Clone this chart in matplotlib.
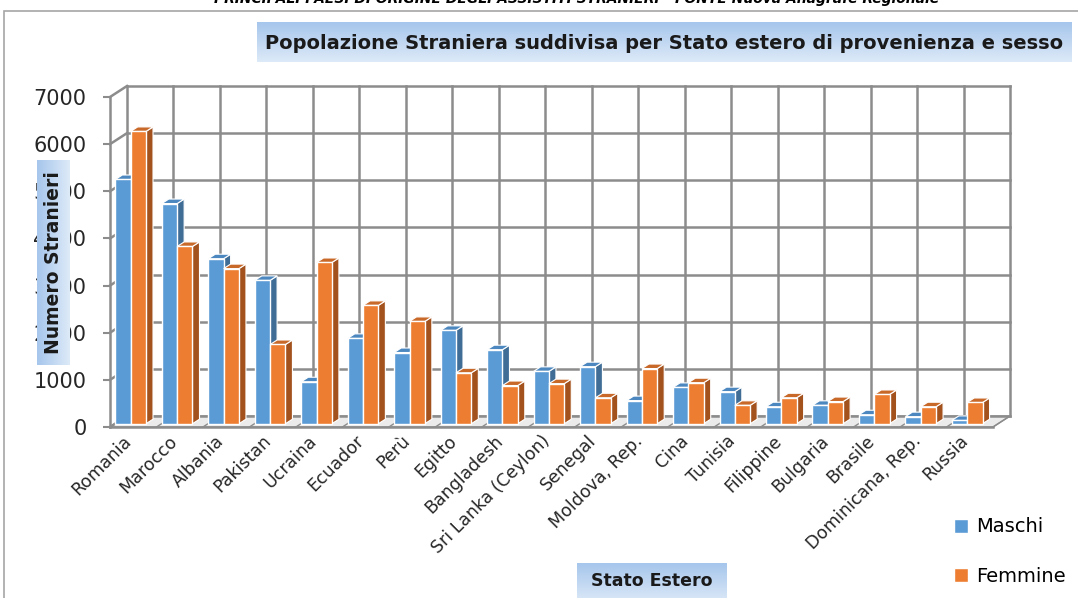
import matplotlib
matplotlib.use("Agg")
import matplotlib.pyplot as plt
import numpy as np
from matplotlib.patches import Polygon, Rectangle
from matplotlib.colors import LinearSegmentedColormap

# dati
paesi = ["Romania", "Marocco", "Albania", "Pakistan", "Ucraina", "Ecuador", "Perù",
         "Egitto", "Bangladesh", "Sri Lanka (Ceylon)", "Senegal", "Moldova, Rep.",
         "Cina", "Tunisia", "Filippine", "Bulgaria", "Brasile", "Dominicana, Rep.",
         "Russia"]
maschi = [5180, 4670, 3500, 3040, 890, 1810, 1510, 1980, 1570, 1110, 1210, 490,
          770, 680, 360, 390, 190, 150, 70]
femmine = [6200, 3760, 3290, 1680, 3420, 2510, 2170, 1080, 810, 850, 550, 1170,
           870, 390, 550, 470, 620, 360, 450]
serie = ["Maschi", "Femmine"]
yticks = [0, 1000, 2000, 3000, 4000, 5000, 6000, 7000]

W, H = 1078, 598
def fx(px):
    return px / W
def fy(py):
    return 1 - py / H

fig = plt.figure(figsize=(W / 100, H / 100), dpi=100)

# bordo area grafico
fig.patches.append(Rectangle((fx(4), -0.1), 1.2, fy(11) + 0.1, transform=fig.transFigure,
                             fill=False, edgecolor="#A6A6A6", lw=1.2))
fig.text(0.535, fy(3), "PRINCIPALI PAESI DI ORIGINE DEGLI ASSISTITI STRANIERI - FONTE Nuova Anagrafe Regionale",
         ha="center", va="baseline", fontsize=10, fontweight="bold", style="italic")

ax = fig.add_axes([fx(110), fy(427), 883 / W, 330 / H])
n = len(paesi)
ymax = yticks[-1]
ax.set_xlim(0, n)
ax.set_ylim(0, ymax)
ax.patch.set_visible(False)
for s in ax.spines.values():
    s.set_visible(False)

# profondita' 3D
wdx = 17 / (883 / n)
wdy = 11 / (330 / ymax)
grid_c = "#8C8C8C"
glw = 1.8

# pavimento
ax.add_patch(Polygon([(0, 0), (n, 0), (n + wdx, wdy), (wdx, wdy)], closed=True,
                     facecolor="#EBEBEB", edgecolor=grid_c, lw=1.0, zorder=1, clip_on=False))
for v in yticks:
    ax.plot([wdx, n + wdx], [v + wdy, v + wdy], color=grid_c, lw=glw, zorder=2, clip_on=False)
    ax.plot([0, wdx], [v, v + wdy], color=grid_c, lw=glw, zorder=2, clip_on=False)
for i in range(n + 1):
    ax.plot([i + wdx, i + wdx], [wdy, ymax + wdy], color=grid_c, lw=glw, zorder=2, clip_on=False)
    ax.plot([i, i + wdx], [0, wdy], color=grid_c, lw=1.0, zorder=2, clip_on=False)
ax.plot([0, 0], [0, ymax], color=grid_c, lw=glw, zorder=3, clip_on=False)
ax.plot([0, n], [0, 0], color=grid_c, lw=glw, zorder=3, clip_on=False)

# barre
bw = 0.33
bdx = 7 / (883 / n)
bdy = 4.5 / (330 / ymax)
sx = 0.11
sy = 70
x = np.arange(n) + 0.5 + sx
colori = [("#5B9BD5", "#3F6D96", "#4C88BF"), ("#ED7D31", "#A3521E", "#C8692A")]
conts = []
for k, vals in enumerate([maschi, femmine]):
    xs = x - bw / 2 + (k - 0.5) * bw
    c = ax.bar(xs, vals, width=bw, bottom=sy, color=colori[k][0], edgecolor="white",
               lw=1.0, label=serie[k], clip_on=False)
    conts.append(c)
    for i, p in enumerate(c.patches):
        z = 10 + 4 * i + 2 * k
        p.set_zorder(z + 0.5)
        x0 = p.get_x()
        x1 = x0 + p.get_width()
        y0 = p.get_y()
        y1 = y0 + p.get_height()
        ax.add_patch(Polygon([(x1, y0), (x1 + bdx, y0 + bdy), (x1 + bdx, y1 + bdy), (x1, y1)],
                             closed=True, facecolor=colori[k][1], edgecolor="white", lw=0.8,
                             zorder=z, clip_on=False))
        ax.add_patch(Polygon([(x0, y1), (x0 + bdx, y1 + bdy), (x1 + bdx, y1 + bdy), (x1, y1)],
                             closed=True, facecolor=colori[k][2], edgecolor="white", lw=0.8,
                             zorder=z, clip_on=False))

ax.set_yticks(yticks)
ax.set_yticklabels([str(v) for v in yticks], fontsize=15, color="#262626")
ax.tick_params(axis="y", length=5, width=1.5, color=grid_c, pad=12)
ax.set_xticks(np.arange(n) + 0.4)
ax.set_xticklabels(paesi, rotation=45, ha="right", va="center", rotation_mode="anchor",
                   fontsize=12.5, color="#262626")
ax.tick_params(axis="x", length=0, pad=8)

ax.legend(handles=conts, loc="upper left", bbox_to_anchor=(fx(936), fy(500)),
          bbox_transform=fig.transFigure, frameon=False, fontsize=14,
          handlelength=0.75, handleheight=0.75, handletextpad=0.4, labelspacing=1.55)

cmap = LinearSegmentedColormap.from_list("box", ["#A6C6EC", "#DDEAF8"])
def grad_box(x0, y0, w, h, horizontal):
    bax = fig.add_axes([fx(x0), fy(y0 + h), w / W, h / H])
    g = np.linspace(0, 1, 64)
    img = g[None, :] if horizontal else g[:, None]
    bax.imshow(img, aspect="auto", cmap=cmap, extent=[0, 1, 0, 1])
    bax.set_xlim(0, 1)
    bax.set_ylim(0, 1)
    bax.axis("off")
    return bax

tb = grad_box(257, 22, 815, 40, False)
tb.text(0.5, 0.47, "Popolazione Straniera suddivisa per Stato estero di provenienza e sesso",
        ha="center", va="center", fontsize=14, fontweight="bold", color="#1A1A1A")
yb = grad_box(37, 160, 33, 205, True)
yb.text(0.5, 0.5, "Numero Stranieri", rotation=90, ha="center", va="center",
        fontsize=13.5, fontweight="bold", color="#1A1A1A")
xb = grad_box(577, 563, 150, 40, False)
xb.text(0.5, 0.55, "Stato Estero", ha="center", va="center", fontsize=12.5,
        fontweight="bold", color="#1A1A1A")

fig.savefig("out.png", dpi=100)
